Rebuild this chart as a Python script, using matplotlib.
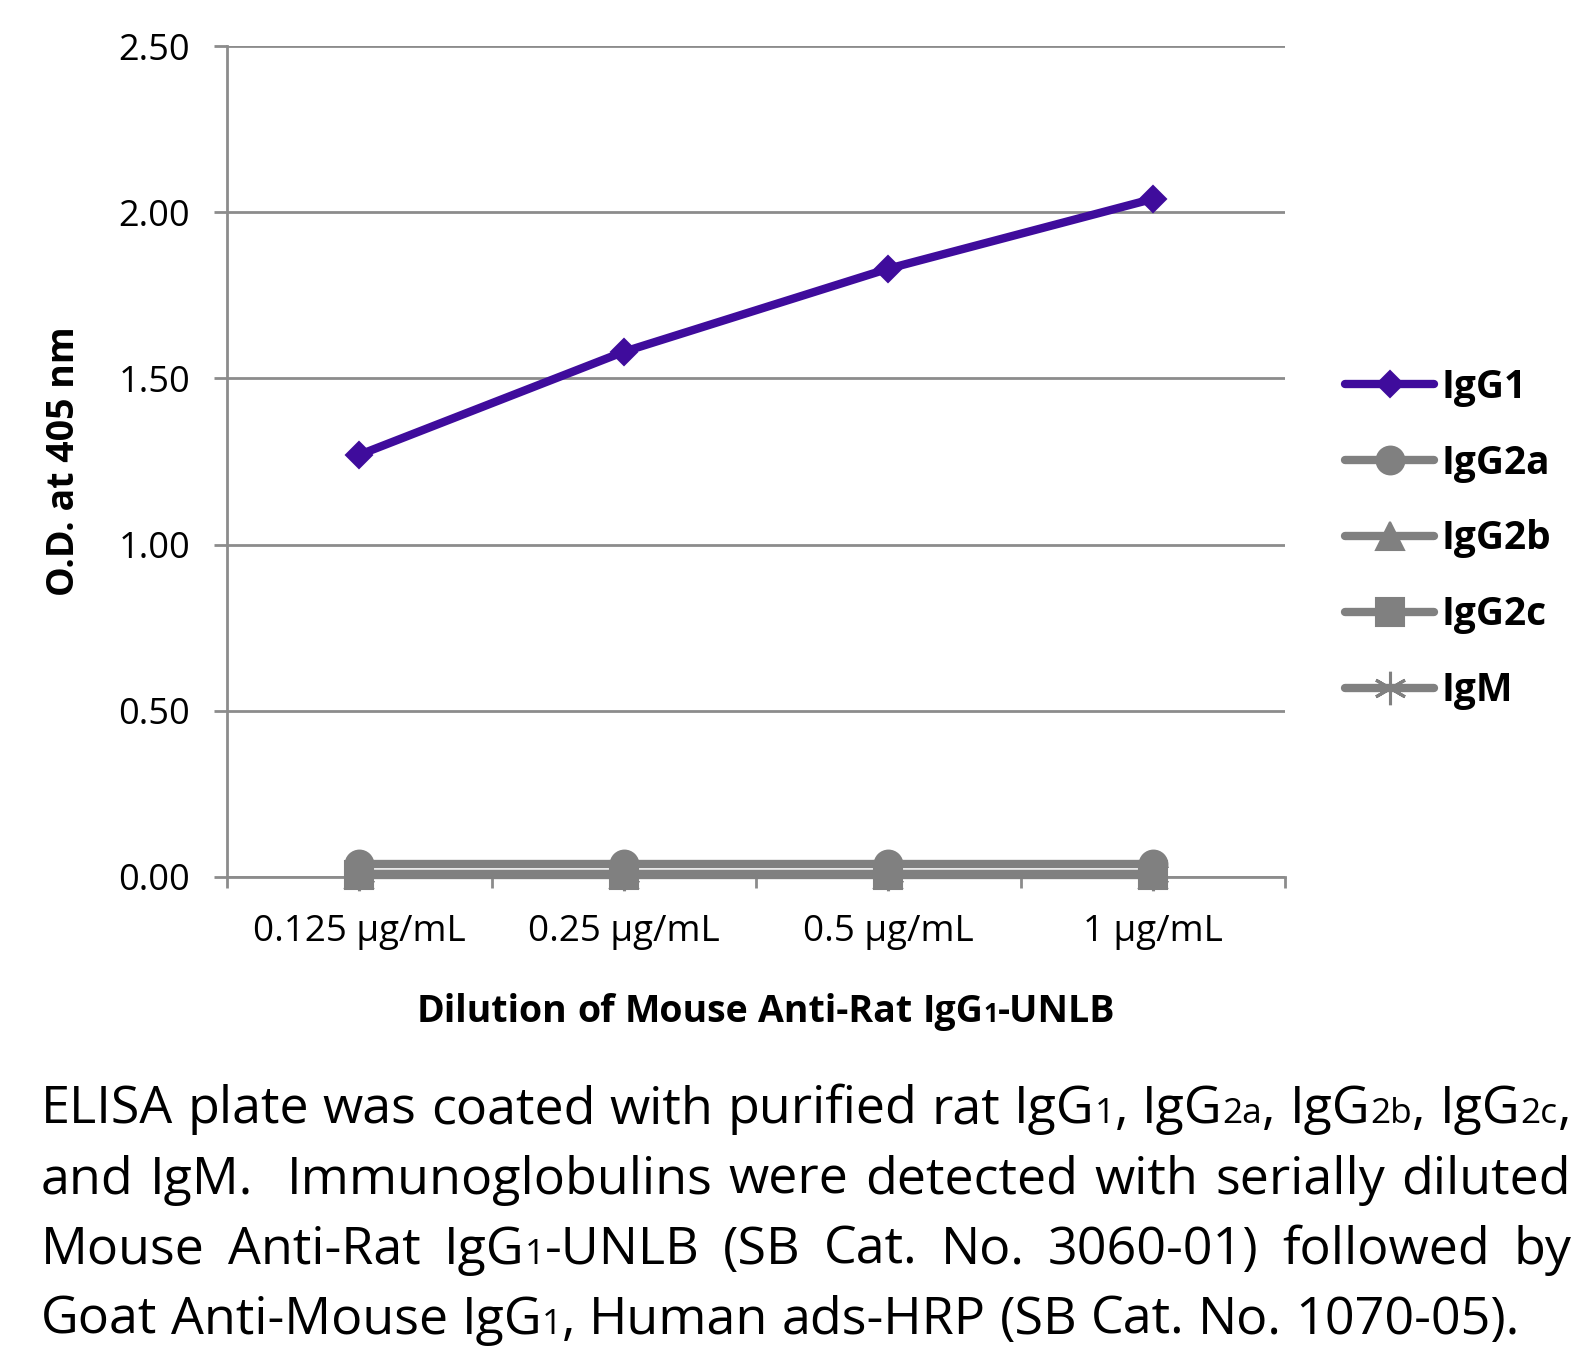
import matplotlib
matplotlib.use('Agg')
import matplotlib.pyplot as plt

FONT = 'Open Sans'
plt.rcParams['font.family'] = [FONT, 'DejaVu Sans']

# data
doses = ['0.125 µg/mL', '0.25 µg/mL', '0.5 µg/mL', '1 µg/mL']
igg1 = [1.27, 1.58, 1.83, 2.04]
igg2a = [0.04, 0.04, 0.04, 0.04]
igg2b = [0.01, 0.01, 0.01, 0.01]
igg2c = [0.005, 0.005, 0.005, 0.005]
igm = [0.008, 0.008, 0.008, 0.008]
series_names = ['IgG1', 'IgG2a', 'IgG2b', 'IgG2c', 'IgM']
y_ticks = [0.0, 0.5, 1.0, 1.5, 2.0, 2.5]
y_tick_labels = ['0.00', '0.50', '1.00', '1.50', '2.00', '2.50']
x_title = 'Dilution of Mouse Anti-Rat IgG_{1}-UNLB'
y_title = 'O.D. at 405 nm'
caption_lines = [
    'ELISA plate was coated with purified rat IgG_{1}, IgG_{2a}, IgG_{2b}, IgG_{2c},',
    'and IgM.  Immunoglobulins were detected with serially diluted',
    'Mouse Anti-Rat IgG_{1}-UNLB (SB Cat. No. 3060-01) followed by',
    'Goat Anti-Mouse IgG_{1}, Human ads-HRP (SB Cat. No. 1070-05).',
]

PURPLE = '#3f0c9c'
GRAY = '#808080'
GRID = '#8c8c8c'

W, H = 1595, 1352
fig = plt.figure(figsize=(W / 100, H / 100), dpi=100)
renderer = fig.canvas.get_renderer()


def fx(px):
    return px / W


def fy(py):
    return 1 - py / H


ax = fig.add_axes([fx(227), fy(877), fx(1285) - fx(227), fy(46) - fy(877)])
x = list(range(len(doses)))

styles = [
    (igg1, PURPLE, 'D', 13, 1.5),
    (igg2a, GRAY, 'o', 20, 1.5),
    (igg2b, GRAY, '^', 20, 1.5),
    (igg2c, GRAY, 's', 20, 1.5),
    (igm, GRAY, (6, 2, 0), 24, 2.2),
]
handles = []
for (vals, col, mk, ms, mew), name in zip(styles, series_names):
    ln, = ax.plot(x, vals, color=col, lw=6, marker=mk, ms=ms, mfc=col, mec=col,
                  mew=mew, solid_capstyle='round', clip_on=False, zorder=3,
                  label=name)
    handles.append(ln)

ax.set_xlim(-0.5, len(doses) - 0.5)
ax.set_ylim(0, 2.5)
ax.set_yticks(y_ticks)
ax.set_yticklabels(y_tick_labels)
ax.set_xticks(x)
ax.set_xticklabels(doses)
ax.set_xticks([i - 0.5 for i in range(len(doses) + 1)], minor=True)
ax.tick_params(axis='x', which='major', length=0, pad=27, labelsize=26.5)
ax.tick_params(axis='x', which='minor', length=8, width=2, color=GRID, direction='out')
ax.tick_params(axis='y', length=9.5, width=2, color=GRID, pad=17, labelsize=26)
ax.yaxis.grid(True, color=GRID, lw=2)
ax.set_axisbelow(True)
for s in ['top', 'right']:
    ax.spines[s].set_visible(False)
for s in ['left', 'bottom']:
    ax.spines[s].set_color(GRID)
    ax.spines[s].set_linewidth(2)

leg = ax.legend(handles=handles, loc='center left', bbox_to_anchor=(fx(1345), fy(539)),
                bbox_transform=fig.transFigure, frameon=False, numpoints=1,
                borderpad=0, borderaxespad=0, handlelength=2.3, handletextpad=0.18,
                labelspacing=0.95, prop={'family': FONT, 'weight': 'bold', 'size': 28})

# y title
fig.text(fx(64), fy(461), y_title, rotation=90, ha='center', va='center',
         fontsize=27, fontweight='bold')


def parse(word):
    segs = []
    while '_{' in word:
        a, rest = word.split('_{', 1)
        b, word = rest.split('}', 1)
        if a:
            segs.append((a, False))
        segs.append((b, True))
    if word:
        segs.append((word, False))
    return segs


def measure(s, size, weight='normal'):
    t = fig.text(0, 0, s, fontsize=size, fontweight=weight)
    w = t.get_window_extent(renderer).width
    t.remove()
    return w


def word_width(segs, size, weight, sub=0.68):
    return sum(measure(s, size * (sub if small else 1), weight) for s, small in segs)


def draw_word(px, base, segs, size, weight, sub=0.68):
    for s, small in segs:
        sz = size * (sub if small else 1)
        fig.text(fx(px), fy(base), s, fontsize=sz, fontweight=weight,
                 ha='left', va='baseline')
        px += measure(s, sz, weight)
    return px


# x title, centred under the axes
xt_size = 27
xt_words = [parse(w) for w in x_title.split(' ')]
sp = measure('a a', xt_size, 'bold') - measure('aa', xt_size, 'bold')
ws = [word_width(w, xt_size, 'bold') for w in xt_words]
total = sum(ws) + sp * (len(ws) - 1)
px = 766 - total / 2
for w, wd in zip(xt_words, ws):
    draw_word(px, 1022, w, xt_size, 'bold')
    px += wd + sp

# caption, justified like the original
left, right = 41, 1571
target = right - left
base_size = 40


def split_line(ln):
    # words plus the number of spaces that follow each one
    parts = ln.split(' ')
    words, gaps = [], []
    for p in parts:
        if p:
            words.append(parse(p))
            gaps.append(1)
        elif gaps:
            gaps[-1] += 1
    return words, gaps[:-1]


lines = [split_line(ln) for ln in caption_lines]
space = measure('a a', base_size) - measure('aa', base_size)
natural = []
for words, gaps in lines:
    natural.append(sum(word_width(w, base_size, 'normal') for w in words)
                   + space * sum(gaps))
cap_size = min(base_size, base_size * target / max(natural[:3]) * 0.995)
space = measure('a a', cap_size) - measure('aa', cap_size)
baselines = [1123, 1194, 1264, 1334]
for i, (words, gaps) in enumerate(lines):
    ws = [word_width(w, cap_size, 'normal') for w in words]
    if i < len(lines) - 1:
        unit = (target - sum(ws)) / sum(gaps)
    else:
        unit = space
    px = left
    for j, (w, wd) in enumerate(zip(words, ws)):
        draw_word(px, baselines[i], w, cap_size, 'normal')
        if j < len(gaps):
            px += wd + unit * gaps[j]

fig.savefig('out.png', dpi=100)
